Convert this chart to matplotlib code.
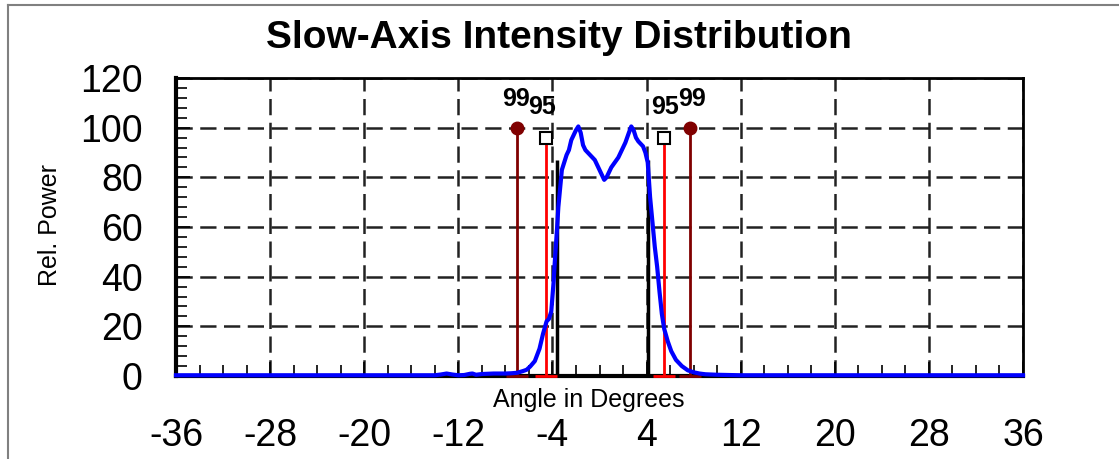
import matplotlib
matplotlib.use('Agg')
import matplotlib.pyplot as plt
from matplotlib.ticker import MultipleLocator
from matplotlib.lines import Line2D

plt.rcParams['font.family'] = ['Liberation Sans', 'DejaVu Sans']
plt.rcParams['axes.unicode_minus'] = False

# measured slow-axis profile (degrees, relative power)
angle = [-36, -30, -20, -14, -13.5, -13, -12.5, -12, -11.5, -11, -10.8, -10.5, -10,
         -9, -8, -7.5, -7, -6.5, -6.2, -5.9, -5.5, -5.1, -4.8, -4.5, -4.3, -4.1, -3.9,
         -3.8, -3.6, -3.5, -3.3, -3.2, -3.0, -2.8, -2.6, -2.4, -2.2, -2.0, -1.8, -1.6,
         -1.4, -1.2, -1.0, -0.8, -0.6, -0.4, -0.2, 0.0, 0.2, 0.4, 0.6, 0.8, 1.0, 1.3,
         1.6, 1.9, 2.2, 2.5, 2.7, 2.9, 3.1, 3.3, 3.5, 3.7, 3.9, 4.1, 4.3, 4.5, 4.7, 4.9,
         5.1, 5.3, 5.5, 5.8, 6.1, 6.5, 7.0, 7.5, 8.0, 8.5, 9.0, 10, 12, 20, 36]
power = [0.3, 0.3, 0.3, 0.3, 0.6, 1.0, 0.6, 0.3, 0.4, 0.9, 1.0, 0.5, 0.8,
         1.0, 1.0, 1.1, 1.3, 2.0, 2.5, 3.8, 6, 11, 17, 22, 23, 26, 38,
         46, 60, 68, 78, 83, 86, 89, 91, 95, 97, 99, 100.5, 98,
         93, 91, 90, 89, 88, 87, 85, 83, 81, 79, 80, 82, 84, 86,
         88, 91, 94, 98, 100.5, 99, 96, 94.5, 93.5, 92.5, 90, 86, 72, 62, 52, 44,
         34, 25, 19, 14, 10, 6.5, 4, 2.3, 1.5, 1.0, 0.7, 0.5, 0.3, 0.3, 0.3]

# content markers
pos99 = [-7.0, 7.7]
val99 = [100, 100]
pos95 = [-4.55, 5.5]
val95 = [96, 96]
edge_pos = [-3.63, 4.16]
edge_val = [87, 87]

xticks = [-36, -28, -20, -12, -4, 4, 12, 20, 28, 36]
yticks = [0, 20, 40, 60, 80, 100, 120]

fig = plt.figure(figsize=(11.19, 4.59), dpi=100)
ax = fig.add_axes([0.1573, 0.1808, 0.7569, 0.6492])

ax.set_xlim(-36, 36)
ax.set_ylim(0, 120)
ax.set_xticks(xticks)
ax.set_yticks(yticks)
ax.xaxis.set_minor_locator(MultipleLocator(2))
ax.yaxis.set_minor_locator(MultipleLocator(4))
ax.tick_params(which='both', direction='in', colors='black', width=1.2)
ax.tick_params(which='major', length=10, labelsize=27)
ax.tick_params(which='minor', length=8)
ax.tick_params(axis='x', which='major', pad=30)
ax.tick_params(axis='y', which='major', pad=24)

ax.grid(True, which='major', color='#222222', linestyle=(0, (6.5, 3)), linewidth=1.8)
for side in ['left', 'bottom']:
    ax.spines[side].set_linewidth(3)
for side in ['top', 'right']:
    ax.spines[side].set_linewidth(2)

# black edge lines
ax.vlines(edge_pos, 0, edge_val, color='black', linewidth=2.5, zorder=3)

# 95% lines
ax.vlines(pos95, 0, val95, color='#ff0000', linewidth=2, zorder=3)
ax.plot(pos95, val95, linestyle='none', marker='s', markersize=8,
        markerfacecolor='white', markeredgecolor='black', markeredgewidth=1.5, zorder=5)
ax.plot(pos95, [0, 0], linestyle='none', marker='_', markersize=16,
        color='#ff0000', markeredgewidth=2, zorder=4, clip_on=False)

# 99% lines
ax.vlines(pos99, 0, val99, color='#800000', linewidth=2, zorder=3)
ax.plot(pos99, val99, linestyle='none', marker='o', markersize=9,
        color='#800000', zorder=5)
ax.plot(pos99, [0, 0], linestyle='none', marker='_', markersize=16,
        color='#800000', markeredgewidth=2, zorder=4, clip_on=False)

ax.plot(angle, power, color='#0000ff', linewidth=3, zorder=4, clip_on=False)

# percent labels
ax.text(pos99[0] - 0.1, 111.5, '99', ha='center', va='center', fontsize=18, fontweight='bold')
ax.text(pos95[0] - 0.35, 108.5, '95', ha='center', va='center', fontsize=18, fontweight='bold')
ax.text(pos95[1] + 0.05, 108.5, '95', ha='center', va='center', fontsize=18, fontweight='bold')
ax.text(pos99[1] + 0.15, 111.5, '99', ha='center', va='center', fontsize=18, fontweight='bold')

fig.text(589 / 1119, 1 - 400 / 459, 'Angle in Degrees', ha='center', va='center',
         fontsize=18)
fig.text(50 / 1119, 1 - 225 / 459, 'Rel. Power', rotation=90, ha='center', va='center',
         fontsize=18)
fig.text(559 / 1119, 1 - 38 / 459, 'Slow-Axis Intensity Distribution', ha='center',
         va='center', fontsize=28, fontweight='bold')

# outer frame (top and left edges)
fig.add_artist(Line2D([8 / 1119, 1], [1 - 5 / 459, 1 - 5 / 459], color='#808080', linewidth=1.5))
fig.add_artist(Line2D([8 / 1119, 8 / 1119], [0, 1 - 5 / 459], color='#808080', linewidth=1.5))

fig.savefig('out.png', dpi=100)
